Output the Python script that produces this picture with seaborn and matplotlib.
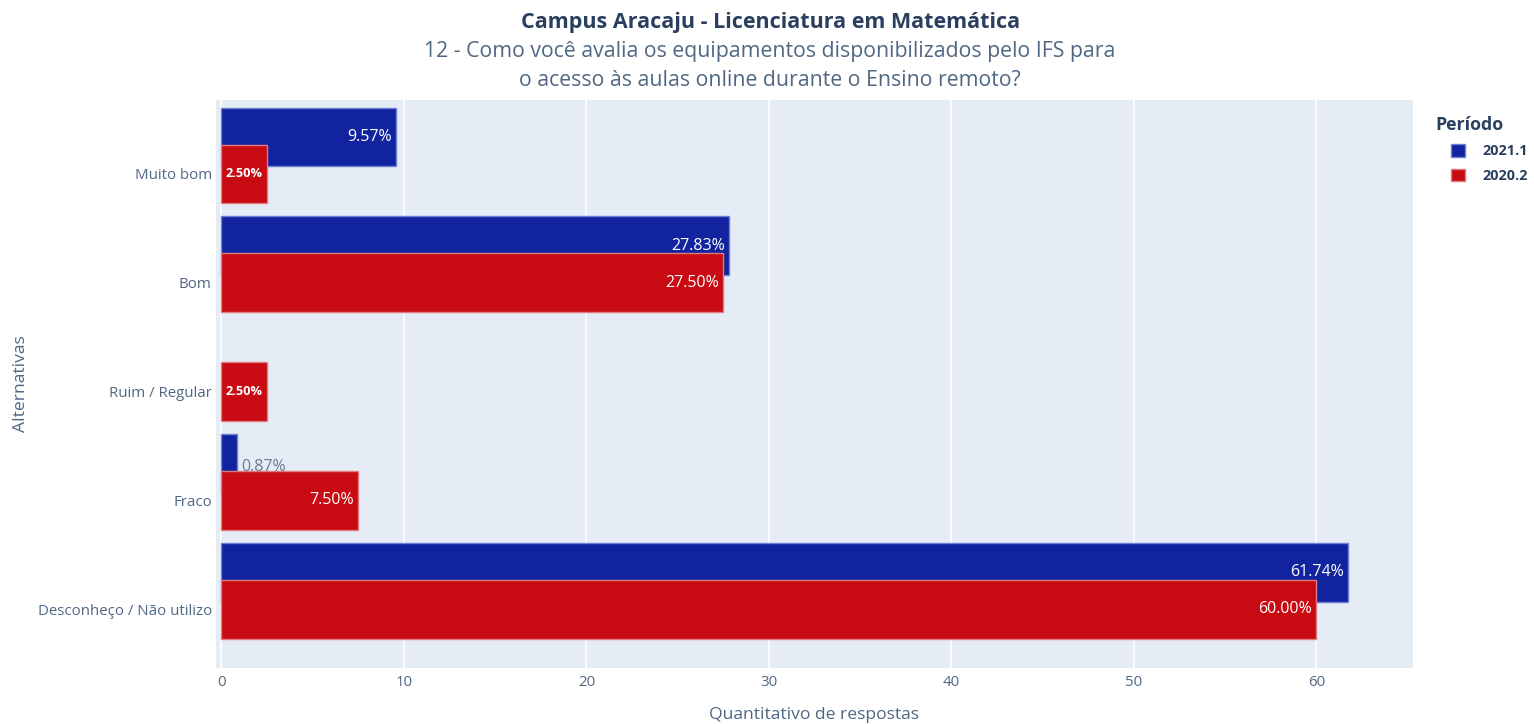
import numpy as np
import pandas as pd
import matplotlib
matplotlib.use("Agg")
import matplotlib.pyplot as plt
import seaborn as sns
from matplotlib.patches import Patch

# Survey answers (percent of respondents) per period
alternativas = ["Muito bom", "Bom", "Ruim / Regular", "Fraco", "Desconheço / Não utilizo"]
periodos = ["2021.1", "2020.2"]
pct_2021_1 = [9.57, 27.83, np.nan, 0.87, 61.74]
pct_2020_2 = [2.50, 27.50, 2.50, 7.50, 60.00]
x_ticks = [0, 10, 20, 30, 40, 50, 60]

cores = {"2021.1": "#11239E", "2020.2": "#C80B12"}
bordas = {"2021.1": "#6F7FD6", "2020.2": "#E07A80"}

sns.set_theme(style="darkgrid")
plt.rcParams["font.family"] = ["Open Sans", "DejaVu Sans"]

fig = plt.figure(figsize=(15.34, 7.24), dpi=100)
ax = fig.add_axes([0.1408, 0.0773, 0.9211 - 0.1408, 0.8619 - 0.0773])
ax.set_facecolor("#E5ECF6")

bar_h = 0.54
shift = {"2021.1": -0.34, "2020.2": 0.0}
series = {"2021.1": pct_2021_1, "2020.2": pct_2020_2}

for per in periodos:
    df = pd.DataFrame({"alt": alternativas, "pct": series[per]}).dropna()
    sns.barplot(data=df, x="pct", y="alt", order=alternativas, orient="h",
                color=cores[per], saturation=1, width=bar_h, errorbar=None,
                edgecolor=bordas[per], linewidth=1.0, ax=ax, zorder=2)
    cont = ax.containers[-1]
    for p in cont.patches:
        p.set_y(p.get_y() + shift[per])
    # value labels
    for p, val in zip(cont.patches, df["pct"]):
        w = p.get_width()
        yc = p.get_y() + p.get_height() / 2
        txt = f"{val:.2f}%"
        if val >= 5:
            ax.text(w - 0.25, yc, txt, ha="right", va="center", color="white",
                    fontsize=11.5, zorder=3)
        elif val >= 2:
            ax.text(w / 2, yc, txt, ha="center", va="center", color="white",
                    fontsize=9.2, fontweight="bold", zorder=3)
        else:
            ax.text(w + 0.2, yc + 0.03, txt, ha="left", va="center", color="#6B7A93",
                    fontsize=11.5, zorder=3)

ax.set_ylim(4.54, -0.68)
ax.set_xlim(-0.3, 65.3)
ax.set_xticks(x_ticks)
ax.grid(axis="x", color="white", linewidth=1.2, zorder=0)
ax.grid(axis="y", visible=False)
ax.set_axisbelow(True)
for s in ax.spines.values():
    s.set_visible(False)
ax.tick_params(axis="both", colors="#506784", labelsize=10.8, length=0)
ax.tick_params(axis="y", pad=3)
ax.tick_params(axis="x", pad=5)
for lab in ax.get_yticklabels() + ax.get_xticklabels():
    lab.set_color("#506784")

ax.set_xlabel("Quantitativo de respostas", fontsize=12.6, color="#506784", labelpad=12)
ax.set_ylabel("Alternativas", fontsize=12.6, color="#506784", labelpad=6)

fig.text(0.502, 0.969, "Campus Aracaju - Licenciatura em Matemática", ha="center",
         va="center", fontsize=15.5, fontweight="bold", color="#2A3F5F")
fig.text(0.502, 0.909, "12 - Como você avalia os equipamentos disponibilizados pelo IFS para\n"
         "o acesso às aulas online durante o Ensino remoto?", ha="center", va="center",
         fontsize=15.3, color="#506784", linespacing=1.5)

# legend: title and entries
fig.text(0.9355, 0.828, "Período", ha="left", va="center", fontsize=12.8,
         fontweight="bold", color="#2A3F5F")
handles = [Patch(facecolor=cores[p], edgecolor=bordas[p]) for p in periodos]
leg = fig.legend(handles, periodos, loc="upper left",
                 bbox_to_anchor=(0.9393, 0.815), frameon=False,
                 prop={"size": 10.4, "weight": "bold"}, handlelength=0.95, handleheight=0.95,
                 labelspacing=0.72, handletextpad=1.2, borderpad=0.2)
for t in leg.get_texts():
    t.set_color("#2A3F5F")

fig.savefig("out.png", dpi=100)
